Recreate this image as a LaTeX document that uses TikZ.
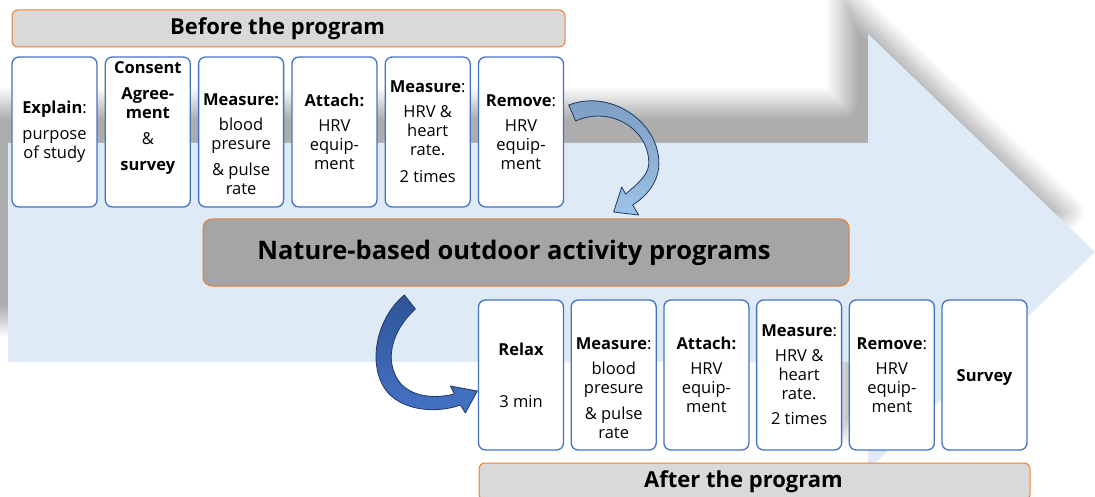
\documentclass[tikz,border=0pt]{standalone}
\usepackage{fontspec}
\setmainfont{Open Sans}
\usetikzlibrary{shadows.blur}

\definecolor{boxblue}{HTML}{4472C4}
\definecolor{barorange}{HTML}{ED7D31}
\definecolor{barlight}{HTML}{D9D9D9}
\definecolor{bardark}{HTML}{A5A5A5}
\definecolor{flowblue}{HTML}{DEEBF7}
\definecolor{arrowedge}{HTML}{1F3864}
\definecolor{steelblue}{HTML}{7B9BC0}
\definecolor{paleblue}{HTML}{9DC3E6}
\definecolor{deepblue}{HTML}{2F5597}
\definecolor{brightblue}{HTML}{4472C4}

\tikzset{
  stepbox/.style={draw=boxblue, fill=white, line width=1.3pt, rounded corners=7pt,
    minimum width=85pt, minimum height=150pt, inner sep=0pt},
  steptext/.style={align=center, font=\fontsize{16.5}{19}\selectfont},
  phasebar/.style={draw=barorange, fill=barlight, line width=1pt, rounded corners=6pt,
    minimum height=37pt, font=\bfseries\fontsize{22}{26}\selectfont},
  programbox/.style={draw=barorange, fill=bardark, line width=1pt, rounded corners=9pt,
    minimum width=646pt, minimum height=67pt, font=\bfseries\fontsize{25.5}{30}\selectfont},
  curvearrow/.style={draw=arrowedge, line width=0.8pt, line join=round}
}

\begin{document}
\begin{tikzpicture}[x=1pt, y=-1pt]
	\useasboundingbox (0,0) rectangle (1095,497);

	% big flow arrow in the back
	\fill[flowblue, blur shadow={shadow xshift=-26pt, shadow yshift=40pt, shadow blur radius=16pt,
			shadow blur steps=24, shadow opacity=32}]
		(8,143) -- (868,143) -- (868,34) -- (1095,252) -- (868,470) -- (868,362) -- (8,362) -- cycle;

	% before
	\node[phasebar, minimum width=553pt] (before) at (288.5,28.5) {Before the program\hspace*{22pt}};
	\foreach \i in {1,...,6}
		\node[stepbox] (pre\i) at ({54.5+93.3*(\i-1)},132) {};
	\node[steptext] (pretxt1) at (pre1) {\textbf{Explain}:\\[7pt]purpose\\of study};
	\node[steptext, yshift=13.5pt] (pretxt2) at (pre2) {\textbf{Consent}\\[7pt]\textbf{Agree-}\\\textbf{ment}\\[7pt]\&\\[7pt]\textbf{survey}};
	\node[steptext, yshift=-12.5pt] (pretxt3) at (pre3) {\textbf{Measure:}\\[6pt]blood\\presure\\[7pt]\& pulse\\rate};
	\node[steptext] (pretxt4) at (pre4) {\textbf{Attach:}\\[6pt]HRV\\equip-\\ment};
	\node[steptext] (pretxt5) at (pre5) {\textbf{Measure}:\\[6pt]HRV \&\\heart\\rate.\\[8pt]2 times};
	\node[steptext] (pretxt6) at (pre6) {\textbf{Remove}:\\[6pt]HRV\\equip-\\ment};

	% program
	\node[programbox] (program) at (526,252.5) {Nature-based outdoor activity programs\hspace*{24pt}};

	% after
	\foreach \i in {1,...,6}
		\node[stepbox] (post\i) at ({521+92.7*(\i-1)},375) {};
	\node[steptext] (posttxt1) at (post1) {\textbf{Relax}\\[33pt]3 min};
	\node[steptext, yshift=-13pt] (posttxt2) at (post2) {\textbf{Measure}:\\[6pt]blood\\presure\\[7pt]\& pulse\\rate};
	\node[steptext] (posttxt3) at (post3) {\textbf{Attach:}\\[6pt]HRV\\equip-\\ment};
	\node[steptext] (posttxt4) at (post4) {\textbf{Measure}:\\[6pt]HRV \&\\heart\\rate.\\[6pt]2 times};
	\node[steptext] (posttxt5) at (post5) {\textbf{Remove}:\\[6pt]HRV\\equip-\\ment};
	\node[steptext, yshift=-3pt] (posttxt6) at (post6) {\textbf{Survey}};
	\node[phasebar, minimum width=551pt] (after) at (754.5,481.5) {After the program\hspace*{22pt}};

	% curved arrows
	\begin{scope}[shift={(pre6.east)}]
		\shadedraw[curvearrow, top color=steelblue, bottom color=paleblue]
			(4.5,-27) .. controls (48.5,-44) and (98.5,-7) .. (94.5,36)
			.. controls (92.5,52) and (82.5,64) .. (68.5,73)
			-- (74.5,83) -- (49.5,80) -- (57.5,55) -- (61.5,62)
			.. controls (74.5,51) and (83.5,43) .. (84.5,33)
			.. controls (86.5,-2) and (46.5,-27) .. (11.5,-11) -- cycle;
	\end{scope}
	\begin{scope}[shift={(post1.west)}]
		\shadedraw[curvearrow, top color=deepblue, bottom color=brightblue]
			(-73.5,-80) -- (-62.5,-66)
			.. controls (-85.5,-45) and (-94.5,-15) .. (-78.5,7)
			.. controls (-66.5,22) and (-43.5,24) .. (-23.5,19)
			-- (-27.5,11) -- (-0.5,16) -- (-12.5,38) -- (-17.5,30)
			.. controls (-38.5,38) and (-73.5,37) .. (-90.5,17)
			.. controls (-110.5,-7) and (-103.5,-55) .. (-73.5,-80) -- cycle;
	\end{scope}
\end{tikzpicture}
\end{document}
